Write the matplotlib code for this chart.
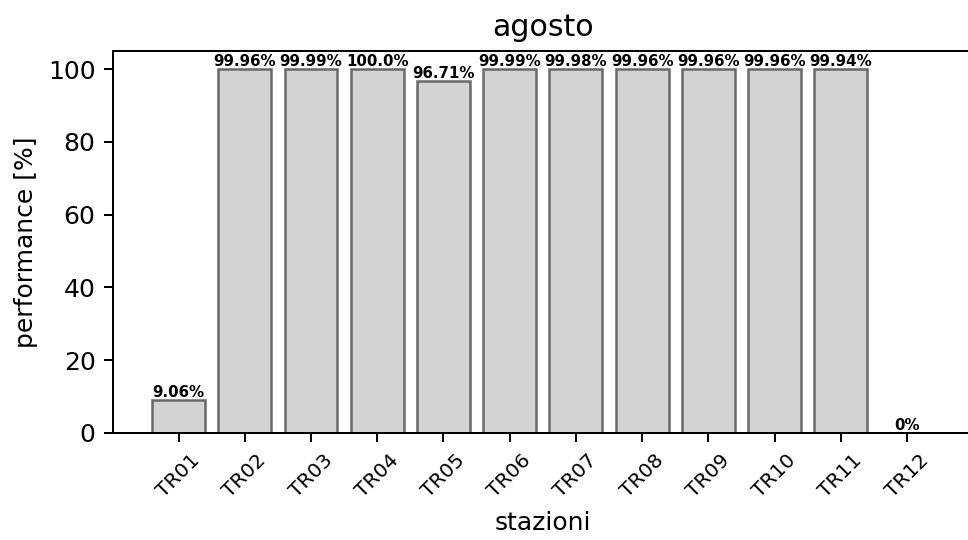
import numpy as np
import matplotlib
matplotlib.use('Agg')
import matplotlib.pyplot as plt

# performance per stazione, agosto
stazioni = ['TR01', 'TR02', 'TR03', 'TR04', 'TR05', 'TR06',
            'TR07', 'TR08', 'TR09', 'TR10', 'TR11', 'TR12']
perf = [9.06, 99.96, 99.99, 100.0, 96.71, 99.99,
        99.98, 99.96, 99.96, 99.96, 99.94, 0]
etichette = ['9.06%', '99.96%', '99.99%', '100.0%', '96.71%', '99.99%',
             '99.98%', '99.96%', '99.96%', '99.96%', '99.94%', '0%']

DPI = 180
fig = plt.figure(figsize=(968/DPI, 540/DPI), dpi=DPI)
ax = fig.add_axes([113/968, 1-433/540, (972.5-113)/968, (433-51)/540])

x = np.arange(len(stazioni))
bars = ax.bar(x, perf, width=0.8, color='lightgray', edgecolor='dimgray', linewidth=1.0)
for b, t in zip(bars, etichette):
    ax.text(b.get_x() + b.get_width()/2, b.get_height(), t,
            ha='center', va='bottom', fontsize=6, fontweight='bold')

ax.set_xticks(x)
ax.set_xticklabels(stazioni, rotation=45, fontsize=8)
ax.set_ylim(0, 105)
ax.set_xlim(-0.99, 11.99)
ax.set_title('agosto', fontsize=12)
ax.set_xlabel('stazioni')
ax.set_ylabel('performance [%]')

fig.savefig('out.png', dpi=DPI)
